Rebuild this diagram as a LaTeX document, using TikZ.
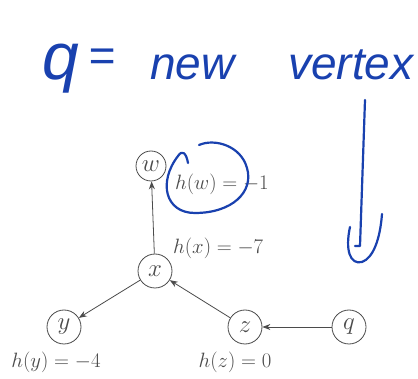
\documentclass[tikz,border=0pt]{standalone}
\usepackage{fontspec}
\newfontfamily\hand{Liberation Sans}
\usetikzlibrary{arrows.meta}
\definecolor{ink}{RGB}{25,65,175}
\definecolor{prt}{RGB}{75,75,75}
\begin{document}
\begin{tikzpicture}[x=1pt,y=-1pt,
  vtx/.style={circle,draw=prt,line width=0.8pt,minimum size=34pt,inner sep=0pt,text=prt,font=\fontsize{25}{25}\selectfont},
  lab/.style={text=prt,inner sep=0pt,font=\fontsize{20}{20}\selectfont},
  edge/.style={draw=prt,line width=0.8pt,-{Stealth[length=8pt,width=6pt]}},
  hw/.style={text=ink,inner sep=0pt,anchor=base west,font=\hand\itshape\fontsize{46}{46}\selectfont},
  pen/.style={draw=ink,line width=2.2pt,line cap=round,line join=round}]
\useasboundingbox[fill=white] (0,0) rectangle (418,379);

% handwritten annotation
\node[hw,font=\hand\itshape\fontsize{66}{66}\selectfont] (hq) at (42,80) {q};
\node[hw] (heq) at (88,72) {=};
\node[hw] (hnew) at (150,80) {new};
\node[hw] (hvertex) at (288,80) {vertex};

% printed graph
\node[vtx,minimum size=30pt] (w) at (151,166) {$w$};
\node[vtx] (x) at (155,271) {$x$};
\node[vtx] (y) at (64,327) {$y$};
\node[vtx] (z) at (245,327) {$z$};
\node[vtx] (q) at (349,327) {$q$};

\node[lab,anchor=west] (lw) at (175,184) {$h(w) = -1$};
\node[lab,anchor=west] (lx) at (173,248) {$h(x) = -7$};
\node[lab] (ly) at (56,362) {$h(y) = -4$};
\node[lab] (lz) at (235,362) {$h(z) = 0$};

\draw[edge] (x) -- (w);
\draw[edge] (x) -- (y);
\draw[edge] (z) -- (x);
\draw[edge] (q) -- (z);

% handwritten circle around h(w)
\draw[pen] (188,163) .. controls (186,152) and (182,150) .. (178,156)
  .. controls (158,182) and (165,213) .. (195,213)
  .. controls (232,213) and (254,192) .. (247,168)
  .. controls (241,146) and (215,138) .. (199,145);

% handwritten down arrow
\coordinate (a1) at (365,100);
\coordinate (a2) at (360,246);
\draw[pen] (a1) -- (a2) -- ++(-5,0);
\draw[pen] (350,227) .. controls (345,250) and (350,265) .. (362,262)
  .. controls (373,258) and (380,240) .. (382,214);
\end{tikzpicture}
\end{document}
